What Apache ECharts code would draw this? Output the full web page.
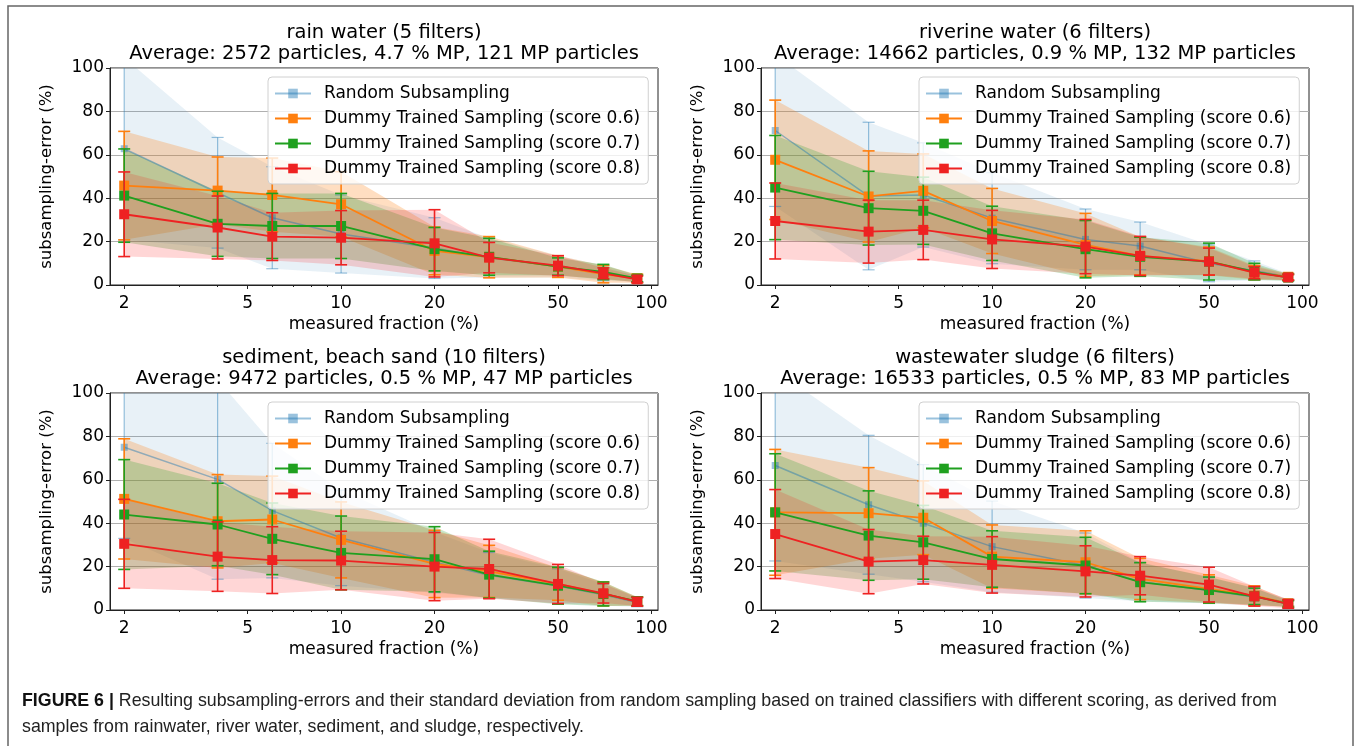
<!DOCTYPE html>
<html>
<head>
<meta charset="utf-8">
<script src="https://cdn.jsdelivr.net/npm/echarts@6/dist/echarts.min.js"></script>
<style>
  html, body { margin: 0; padding: 0; background: #fff; }
  #chart { width: 1356px; height: 746px; }
</style>
</head>
<body>
<div id="chart"></div>
<script>
// measured fractions (%) shared by all panels
const fractions = [2, 4, 6, 10, 20, 30, 50, 70, 90];
const seriesNames = [
  'Random Subsampling',
  'Dummy Trained Sampling (score 0.6)',
  'Dummy Trained Sampling (score 0.7)',
  'Dummy Trained Sampling (score 0.8)'
];
const majorTicks = [2, 5, 10, 20, 50, 100];
const minorTicks = [3, 4, 6, 7, 8, 9, 30, 40, 60, 70, 80, 90];

const panelTitles = [
  'rain water (5 filters)\nAverage: 2572 particles, 4.7 % MP, 121 MP particles',
  'riverine water (6 filters)\nAverage: 14662 particles, 0.9 % MP, 132 MP particles',
  'sediment, beach sand (10 filters)\nAverage: 9472 particles, 0.5 % MP, 47 MP particles',
  'wastewater sludge (6 filters)\nAverage: 16533 particles, 0.5 % MP, 83 MP particles'
];

// rows: random, score 0.6, score 0.7, score 0.8
const rainMean = [
  [62.8, 42.5, 31, 23.5, 17, 12.5, 8.5, 5.5, 3],
  [45.8, 43.5, 41.5, 37.2, 15.7, 12.8, 8.5, 5, 3],
  [41.2, 28.2, 27.2, 27.2, 16.5, 13, 8.5, 6, 3],
  [32.6, 26.5, 22.3, 21.8, 19.2, 12.6, 8.9, 5.4, 2.6]
];
const rainStd = [
  [42, 25.5, 23.5, 18, 14, 9, 5, 3.5, 1.5],
  [25, 15.5, 17, 15, 11, 9.5, 5, 4, 2],
  [21.5, 15, 15, 15, 10, 8.5, 4, 3.5, 1.5],
  [19.5, 14.5, 11, 12.5, 15.5, 7, 4.6, 2.5, 1.5]
];
const riverMean = [
  [71.2, 41, 41.5, 30.8, 21, 18, 10, 6.6, 3.8],
  [57.7, 40.8, 43.4, 29.5, 18.5, 13.4, 11, 5.7, 3.8],
  [44.9, 35.4, 34.2, 23.8, 16.5, 13, 10.8, 6.2, 3.4],
  [29.5, 24.6, 25.4, 21, 17.7, 13.4, 10.8, 5.7, 3.5]
];
const riverStd = [
  [35, 34, 24, 21, 14, 11, 8.5, 4.5, 1.5],
  [27.5, 21, 17, 15, 14.5, 8.7, 6.5, 3.3, 1.5],
  [24, 17, 15.5, 12.5, 13.2, 9, 8.5, 3.8, 1.5],
  [17.5, 14.5, 13.7, 13.4, 12.5, 9, 6.2, 2.8, 1.3]
];
const sedimentMean = [
  [75, 60.2, 45.8, 33.2, 22, 16, 11, 7, 3.5],
  [51.2, 40.9, 41.7, 32.3, 21.2, 17.8, 12, 7.4, 4],
  [44, 39.4, 32.8, 26.3, 23.4, 16.3, 11.2, 7.4, 4],
  [30.5, 24.6, 23, 22.8, 20, 18.9, 12, 7.7, 3.8]
];
const sedimentStd = [
  [42, 46, 31, 22, 14, 10.5, 8, 5, 2],
  [27.7, 21.5, 20, 17.5, 15.5, 12, 7.5, 5.5, 2],
  [25.3, 19, 16.5, 17, 15, 10.8, 8.5, 5.5, 2],
  [20.5, 16, 15.4, 13.5, 15.7, 13.7, 9, 4.5, 2]
];
const sludgeMean = [
  [66.6, 48.5, 40, 29.2, 20.5, 13, 9, 6, 3.5],
  [45, 44.6, 42.5, 24.6, 22, 14.3, 9.7, 6.6, 3.1],
  [45, 34.3, 31.2, 23.5, 20.5, 12.8, 9.2, 6.3, 2.8],
  [35, 22.3, 23, 20.8, 17.8, 15.8, 11.7, 6.3, 2.8]
];
const sludgeStd = [
  [44, 32, 27, 21, 15, 9, 6, 4, 1.5],
  [29, 21, 17, 14.6, 14.5, 9.5, 6.5, 4.5, 1.5],
  [27, 20.6, 17, 13, 13, 9, 6, 3.8, 1.5],
  [20.5, 14.8, 11, 13, 11.8, 8.8, 8, 4.5, 2]
];

const panels = [
  { mean: rainMean, std: rainStd, left: 110, top: 68 },
  { mean: riverMean, std: riverStd, left: 761, top: 68 },
  { mean: sedimentMean, std: sedimentStd, left: 110, top: 393 },
  { mean: sludgeMean, std: sludgeStd, left: 761, top: 393 }
];

const lineColors = ['rgba(31,119,180,0.45)', '#ff7f0e', '#1fa01f', '#ee2222'];
const bandColors = ['rgba(31,119,180,0.10)', 'rgba(255,127,14,0.26)', 'rgba(44,160,44,0.25)', 'rgba(255,0,0,0.16)'];
const font = 'DejaVu Sans';
const W = 548, H = 217;

const chart = echarts.init(document.getElementById('chart'));

const grid = [], xAxis = [], yAxis = [], legend = [], series = [], graphic = [];

function errorBarRenderer(color, width) {
  return function (params, api) {
    const x = api.value(0);
    const lo = api.coord([x, api.value(1)]);
    const hi = api.coord([x, api.value(2)]);
    const cw = 6;
    const style = { stroke: color, lineWidth: width, fill: null };
    return {
      type: 'group',
      children: [
        { type: 'line', shape: { x1: lo[0], y1: lo[1], x2: hi[0], y2: hi[1] }, style },
        { type: 'line', shape: { x1: lo[0] - cw, y1: lo[1], x2: lo[0] + cw, y2: lo[1] }, style },
        { type: 'line', shape: { x1: hi[0] - cw, y1: hi[1], x2: hi[0] + cw, y2: hi[1] }, style }
      ]
    };
  };
}

// fill between mean-std and mean+std, drawn once as one polygon
function bandRenderer(lows, highs, color) {
  return function (params, api) {
    if (params.dataIndex !== 0) return null;
    const pts = [];
    fractions.forEach((x, j) => pts.push(api.coord([x, highs[j]])));
    for (let j = fractions.length - 1; j >= 0; j--) pts.push(api.coord([fractions[j], lows[j]]));
    return { type: 'polygon', shape: { points: pts }, style: { fill: color, stroke: null } };
  };
}

panels.forEach((p, i) => {
  grid.push({
    left: p.left, top: p.top, width: W, height: H,
    show: true, borderColor: '#222', borderWidth: 1, backgroundColor: 'transparent'
  });
  // major log axis with labels
  xAxis.push({
    gridIndex: i, type: 'log', logBase: 10, min: 1.8, max: 105, position: 'bottom',
    name: 'measured fraction (%)', nameLocation: 'middle', nameGap: 31,
    nameTextStyle: { fontFamily: font, fontSize: 17, color: '#000' },
    axisLine: { show: true, lineStyle: { color: '#222' } },
    axisTick: { show: true, length: 4, customValues: majorTicks, lineStyle: { color: '#222' } },
    axisLabel: { customValues: majorTicks, fontFamily: font, fontSize: 17, color: '#000', margin: 10 },
    splitLine: { show: false },
    minorTick: { show: false }
  });
  // minor ticks
  xAxis.push({
    gridIndex: i, type: 'log', logBase: 10, min: 1.8, max: 105, position: 'bottom',
    axisLine: { show: false },
    axisTick: { show: true, length: 2, customValues: minorTicks, lineStyle: { color: '#222' } },
    axisLabel: { show: false },
    splitLine: { show: false }
  });
  yAxis.push({
    gridIndex: i, type: 'value', min: 0, max: 100, interval: 20,
    name: 'subsampling-error (%)', nameLocation: 'middle', nameGap: 55, nameRotate: 90,
    nameTextStyle: { fontFamily: font, fontSize: 16.5, color: '#000' },
    axisLine: { show: true, lineStyle: { color: '#222' } },
    axisTick: { show: true, length: 4, lineStyle: { color: '#222' } },
    axisLabel: { fontFamily: font, fontSize: 17, color: '#000', margin: 6 },
    splitLine: { show: true, lineStyle: { color: '#b0b0b0', width: 1.2 } }
  });
  legend.push({
    orient: 'vertical', left: p.left + 158, top: p.top + 9,
    data: seriesNames, itemWidth: 36, itemHeight: 12, itemGap: 8,
    padding: [8, 8, 7, 6], z: 10,
    backgroundColor: 'rgba(255,255,255,0.8)', borderColor: '#d0d0d0', borderWidth: 1, borderRadius: 4,
    textStyle: { fontFamily: font, fontSize: 17, color: '#000', padding: [0, 0, 0, 8] },
    selectedMode: false
  });
  graphic.push({
    type: 'text', x: p.left + W / 2, y: p.top - 46, z: 10,
    style: { text: panelTitles[i], font: '19.5px "DejaVu Sans"', fill: '#000', textAlign: 'center', lineHeight: 21 }
  });

  p.mean.forEach((m, k) => {
    const sd = p.std[k];
    const lows = m.map((v, j) => v - sd[j]);
    const highs = m.map((v, j) => v + sd[j]);
    series.push({
      type: 'custom', coordinateSystem: 'cartesian2d', xAxisIndex: 2 * i, yAxisIndex: i,
      clip: true, silent: true, z: 1,
      encode: { x: 0, y: [1, 2] },
      renderItem: bandRenderer(lows, highs, bandColors[k]),
      data: fractions.map((x, j) => [x, lows[j], highs[j]])
    });
    series.push({
      type: 'custom', coordinateSystem: 'cartesian2d', xAxisIndex: 2 * i, yAxisIndex: i,
      clip: true, silent: true, z: 3 + k,
      encode: { x: 0, y: [1, 2] },
      renderItem: errorBarRenderer(lineColors[k], k === 0 ? 1.2 : 1.6),
      data: fractions.map((x, j) => [x, lows[j], highs[j]])
    });
    series.push({
      name: seriesNames[k], type: 'line', xAxisIndex: 2 * i, yAxisIndex: i, z: 3 + k,
      symbol: 'rect', symbolSize: k === 0 ? 7 : 10,
      itemStyle: { color: lineColors[k] },
      lineStyle: { color: lineColors[k], width: k === 0 ? 1.5 : 1.8 },
      data: fractions.map((x, j) => [x, m[j]])
    });
  });
});

// outer frame and figure caption
graphic.push({
  type: 'rect', shape: { x: 8, y: 6, width: 1345, height: 760 },
  style: { fill: null, stroke: '#666', lineWidth: 1.5 }, silent: true
});
graphic.push({
  type: 'text', x: 22, y: 692,
  style: {
    text: '{b|FIGURE 6 |} Resulting subsampling-errors and their standard deviation from random sampling based on trained classifiers with different scoring, as derived from',
    font: '17.8px "Liberation Sans"', fill: '#222',
    rich: { b: { fontWeight: 'bold', fontFamily: 'Liberation Sans', fontSize: 17.8, fill: '#111' } }
  }
});
graphic.push({
  type: 'text', x: 22, y: 718,
  style: {
    text: 'samples from rainwater, river water, sediment, and sludge, respectively.',
    font: '17.8px "Liberation Sans"', fill: '#222'
  }
});

chart.setOption({
  animation: false,
  backgroundColor: '#fff',
  grid, xAxis, yAxis, legend, series, graphic
});
</script>
</body>
</html>
